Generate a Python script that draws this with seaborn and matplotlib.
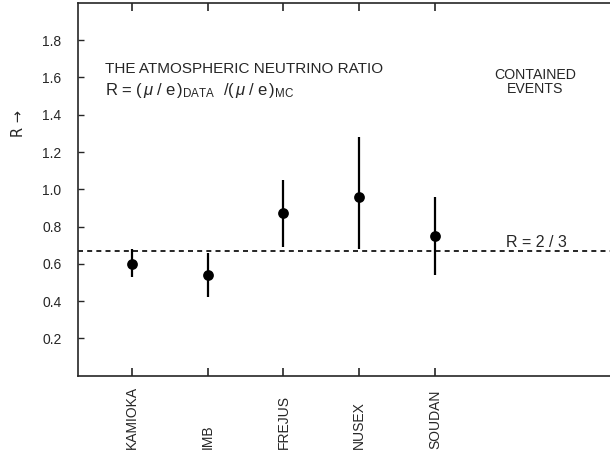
import numpy as np
import pandas as pd
import matplotlib
matplotlib.use("Agg")
import matplotlib.pyplot as plt
import seaborn as sns

experiments = ["KAMIOKA", "IMB", "FREJUS", "NUSEX", "SOUDAN"]
ratio = [0.60, 0.54, 0.87, 0.96, 0.75]
err_low = [0.53, 0.42, 0.69, 0.68, 0.54]
err_high = [0.68, 0.66, 1.05, 1.28, 0.96]
ref_ratio = 2 / 3
yticks = [0.2, 0.4, 0.6, 0.8, 1.0, 1.2, 1.4, 1.6, 1.8]

sns.set_style("ticks")
plt.rcParams['font.family'] = ['Liberation Sans', 'DejaVu Sans']
plt.rcParams['mathtext.fontset'] = 'custom'
plt.rcParams['mathtext.rm'] = 'Liberation Sans'
plt.rcParams['mathtext.it'] = 'Liberation Sans:italic'

df = pd.DataFrame({"exp": experiments, "R": ratio, "lo": err_low, "hi": err_high})
df["x"] = np.arange(len(df))

fig = plt.figure(figsize=(6.10, 4.58), dpi=100)
ax = fig.add_axes([0.128, 0.180, 0.874, 0.8135])

ax.vlines(df["x"], df["lo"], df["hi"], color="black", lw=1.6, zorder=2)
sns.scatterplot(data=df, x="x", y="R", ax=ax, color="black", s=60,
                edgecolor="black", linewidth=0, zorder=3, legend=False)
ax.axhline(ref_ratio, color="black", lw=1.2, ls=(0, (3, 2.5)), zorder=1)

ax.set_xlim(-0.713, 6.33)
ax.set_ylim(0, 2.0)
ax.set_yticks(yticks)
ax.set_yticklabels([f"{v:.1f}" for v in yticks], fontsize=10)
ax.set_xticks(df["x"])
ax.set_xticklabels([])
ax.tick_params(axis="x", direction="in", length=6, width=1.2, top=True, bottom=True)
ax.tick_params(axis="y", direction="in", length=4, width=1.0, left=True, right=False, pad=12)
ax.set_xlabel("")
ax.set_ylabel("")
for s in ["left", "bottom", "top"]:
    ax.spines[s].set_linewidth(1.2)
    ax.spines[s].set_visible(True)
ax.spines["right"].set_visible(False)

for xi, name in zip(df["x"], experiments):
    ax.annotate(name, xy=(xi, 0), xycoords="data", xytext=(0, -73),
                textcoords="offset pixels", rotation=90, ha="center", va="bottom",
                fontsize=10)

ax.text(0.05, 0.812, "THE ATMOSPHERIC NEUTRINO RATIO", transform=ax.transAxes,
        fontsize=11, ha="left", va="baseline")
ax.text(0.05, 0.753,
        r"R = $(\,\mu\;/\;\mathrm{e}\,)_{\mathrm{DATA}}\ \ /(\,\mu\;/\;\mathrm{e}\,)_{\mathrm{MC}}$",
        transform=ax.transAxes, fontsize=12, ha="left", va="baseline")
ax.text(0.857, 0.796, "CONTAINED", transform=ax.transAxes, fontsize=10.2,
        ha="center", va="baseline")
ax.text(0.857, 0.758, "EVENTS", transform=ax.transAxes, fontsize=10.2,
        ha="center", va="baseline")
ax.text(5.34, 0.69, "R = 2 / 3", fontsize=11.5, ha="center", va="baseline")

fig.text(0.03, 0.73, "R \u2192", rotation=90, fontsize=10.5, ha="center", va="center",
         family=['DejaVu Sans'])

fig.savefig("out.png", dpi=100)
